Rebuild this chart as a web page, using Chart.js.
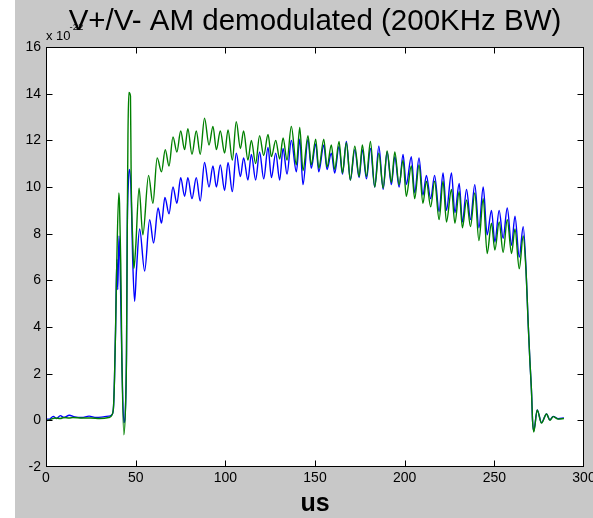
<!DOCTYPE html>
<html lang="en">
<head>
  <meta charset="UTF-8">
  <title>V+/V- AM demodulated (200KHz BW)</title>
  <script src="https://cdn.jsdelivr.net/npm/chart.js"></script>
  <style>
    html, body { margin: 0; padding: 0; background: #fff; }
    #wrap { position: relative; width: 593px; height: 518px; }
  </style>
</head>
<body>
  <div id="wrap"><canvas id="chart"></canvas></div>

  <script>
    // time in us, value in units of the axis exponent
    const greenT = [0, 3, 5, 8, 10, 13, 15, 20, 25, 30, 35, 36.9, 37.7, 38.2, 38.8, 39.5, 40.6, 41.0, 41.7, 42.3,
      43.4, 44.5, 44.9, 45.3, 45.7, 46.2, 47.1, 47.5, 48.3, 49.0, 50.0, 51.9, 54.0, 57.2, 59.6, 62.0, 64.4, 66.5, 68.6, 70.8,
      73.0, 75.1, 77.3, 79.1, 81.4, 83.8, 86.0, 88.4, 90.9, 93.1, 95.0, 97.2, 99.6, 101.5, 103.9, 106.1, 108.4, 110.2, 112.6, 114.5,
      116.9, 119.1, 121.4, 123.8, 125.7, 128.1, 130.3, 132.2, 134.4, 136.8, 139.6, 141.5, 143.3, 146.1, 147.9, 150.4, 152.1, 154.9, 156.7, 159.1,
      161.0, 163.4, 165.3, 167.5, 169.7, 172.2, 174.6, 176.4, 178.7, 180.9, 183.3, 185.6, 188.0, 190.2, 192.6, 194.5, 196.9, 199.1, 200.9, 203.7,
      205.6, 208.0, 210.2, 212.1, 214.5, 216.7, 219.2, 221.4, 223.3, 226.1, 228.0, 230.4, 232.2, 234.5, 236.7, 239.1, 241.4, 243.8, 246.0, 248.4,
      250.3, 252.7, 254.9, 257.2, 259.6, 261.5, 263.9, 266.1, 267.6, 268.9, 269.8, 270.8, 271.3, 272.0, 273.9, 276.3, 279.1, 281.0, 282.8, 285.6,
      288.8];
    const greenV = [-0.03, 0.05, 0.1, 0.08, 0.12, 0.1, 0.12, 0.1, 0.1, 0.08, 0.12, 0.25, 0.65, 1.8, 3.9, 6.9, 9.75, 9.3, 6.7, 2.7,
      -0.62, 1.0, 2.9, 8.0, 12.2, 14.05, 13.9, 10.3, 7.8, 6.5, 7.4, 9.95, 7.95, 10.5, 9.3, 11.25, 10.65, 11.6, 10.9, 12.15,
      11.5, 12.4, 11.6, 12.5, 11.4, 12.4, 11.4, 12.95, 11.8, 12.6, 11.6, 12.4, 11.45, 12.45, 11.15, 12.8, 11.65, 12.4, 11.15, 12.0,
      11.0, 12.2, 11.35, 12.25, 11.3, 12.0, 11.2, 12.1, 11.15, 12.6, 10.95, 12.55, 10.7, 12.2, 10.95, 12.05, 10.8, 12.05, 10.85, 11.8,
      10.75, 11.95, 10.6, 11.9, 10.3, 11.75, 10.45, 11.8, 10.45, 11.95, 10.0, 11.45, 9.95, 11.55, 10.2, 11.5, 10.1, 11.15, 9.6, 10.9,
      9.5, 10.95, 9.3, 10.25, 9.15, 10.25, 8.6, 10.25, 8.5, 9.9, 8.45, 9.8, 8.25, 9.45, 8.3, 9.75, 7.7, 9.5, 7.15, 8.45,
      7.3, 8.5, 7.2, 8.6, 7.15, 8.2, 6.5, 7.9, 6.5, 4.1, 2.6, 1.1, 0.0, -0.5, 0.45, -0.12, 0.27, 0.0, 0.16, 0.05,
      0.08];

    const blueT = [0, 2, 4, 6, 8, 10, 13, 16, 20, 24, 28, 32, 35, 36.9, 37.7, 38.2, 38.8, 39.5, 40.0, 40.7,
      41.3, 42.3, 43.4, 44.5, 44.9, 45.3, 46.0, 46.6, 47.5, 48.3, 49.4, 50.5, 52.2, 55.0, 57.8, 60.0, 62.5, 64.4, 66.3, 68.6,
      70.8, 73.0, 75.1, 77.3, 79.1, 81.4, 83.8, 86.0, 88.4, 90.9, 93.1, 95.0, 97.2, 99.6, 101.5, 103.9, 106.1, 108.4, 110.2, 112.6,
      114.5, 116.9, 119.1, 121.4, 123.8, 125.7, 128.1, 130.3, 132.2, 134.4, 136.8, 139.6, 141.5, 143.3, 146.1, 147.9, 150.4, 152.1, 154.9, 156.7,
      159.1, 161.0, 163.4, 165.3, 167.5, 169.7, 172.2, 174.6, 176.4, 178.7, 180.9, 183.3, 185.6, 188.0, 190.2, 192.6, 194.5, 196.9, 199.1, 200.9,
      203.7, 205.6, 208.0, 210.2, 212.1, 214.5, 216.7, 219.2, 221.4, 223.3, 226.1, 228.0, 230.4, 232.2, 234.5, 236.7, 239.1, 241.4, 243.8, 246.0,
      248.4, 250.3, 252.7, 254.9, 257.2, 259.6, 261.5, 263.9, 266.1, 267.6, 268.9, 269.8, 270.8, 271.3, 272.0, 273.9, 276.3, 279.1, 281.0, 282.8,
      285.6, 288.8];
    const blueV = [0.05, 0.05, 0.17, 0.08, 0.2, 0.12, 0.22, 0.15, 0.12, 0.18, 0.12, 0.15, 0.18, 0.25, 0.65, 1.8, 3.9, 6.9, 5.6, 7.9,
      6.8, 2.6, -0.1, 1.0, 3.0, 8.0, 10.3, 10.75, 9.66, 7.0, 5.1, 6.5, 8.2, 6.4, 8.6, 7.6, 9.1, 8.45, 9.55, 8.85,
      10.0, 9.3, 10.4, 9.6, 10.4, 9.5, 10.4, 9.4, 11.05, 10.0, 10.9, 10.0, 10.95, 9.85, 11.05, 9.8, 11.45, 10.45, 11.25, 10.3,
      11.4, 10.3, 11.5, 10.35, 11.7, 10.4, 11.45, 10.3, 11.65, 10.55, 12.0, 10.65, 12.05, 10.1, 12.05, 10.8, 11.85, 10.65, 11.8, 10.75,
      11.45, 10.6, 11.75, 10.55, 11.95, 10.3, 11.6, 10.4, 11.6, 10.35, 11.65, 10.0, 11.75, 9.9, 11.5, 10.1, 11.3, 10.0, 11.4, 10.1,
      11.3, 9.75, 11.25, 9.65, 10.5, 9.5, 10.5, 8.95, 10.6, 9.0, 10.6, 8.9, 10.15, 8.5, 9.9, 8.6, 10.1, 8.25, 10.0, 7.95,
      9.0, 7.65, 9.0, 7.8, 9.1, 7.5, 8.75, 7.0, 8.3, 6.6, 4.1, 2.6, 1.1, 0.0, -0.45, 0.45, -0.1, 0.27, 0.02, 0.17,
      0.07, 0.1];

    const xTicks = [0, 50, 100, 150, 200, 250, 300];
    const yTicks = [-2, 0, 2, 4, 6, 8, 10, 12, 14, 16];

    const font = '"Liberation Sans", Arial, sans-serif';
    const toPoints = (t, v) => t.map((x, i) => ({ x: x, y: v[i] }));

    // gray figure, white axes, box and inward ticks like the original figure
    const frame = {
      id: 'frame',
      beforeDraw(chart) {
        const { ctx, chartArea: a, width, height } = chart;
        ctx.save();
        ctx.fillStyle = '#fff';
        ctx.fillRect(0, 0, width, height);
        ctx.fillStyle = '#c8c8c8';
        ctx.fillRect(15, 0, width - 15, height);
        ctx.fillStyle = '#fff';
        ctx.fillRect(a.left, a.top, a.right - a.left, a.bottom - a.top);
        ctx.fillStyle = '#000';
        ctx.textAlign = 'left';
        ctx.textBaseline = 'alphabetic';
        ctx.font = '13px ' + font;
        ctx.fillText('x 10', a.left, 40);
        ctx.font = '9.5px ' + font;
        ctx.fillText('-22', 69.5, 29.5);
        ctx.restore();
      },
      afterDatasetsDraw(chart) {
        const { ctx, chartArea: a, scales } = chart;
        const l = Math.round(a.left) + 0.5, r = Math.round(a.right) - 0.5;
        const t = Math.round(a.top) + 0.5, b = Math.round(a.bottom) - 0.5;
        const len = 6;
        ctx.save();
        ctx.strokeStyle = '#000';
        ctx.lineWidth = 1;
        ctx.beginPath();
        xTicks.slice(1, -1).forEach(v => {
          const px = Math.round(scales.x.getPixelForValue(v)) + 0.5;
          ctx.moveTo(px, b); ctx.lineTo(px, b - len);
          ctx.moveTo(px, t); ctx.lineTo(px, t + len);
        });
        yTicks.slice(1, -1).forEach(v => {
          const py = Math.round(scales.y.getPixelForValue(v)) + 0.5;
          ctx.moveTo(l, py); ctx.lineTo(l + len, py);
          ctx.moveTo(r, py); ctx.lineTo(r - len, py);
        });
        ctx.stroke();
        ctx.strokeRect(l, t, r - l, b - t);
        ctx.restore();
      }
    };

    new Chart(document.getElementById('chart'), {
      type: 'line',
      data: {
        datasets: [
          { label: 'V-', data: toPoints(greenT, greenV), borderColor: '#008000', borderWidth: 1.4,
            pointRadius: 0, cubicInterpolationMode: 'monotone' },
          { label: 'V+', data: toPoints(blueT, blueV), borderColor: '#0000ff', borderWidth: 1.4,
            pointRadius: 0, cubicInterpolationMode: 'monotone' }
        ]
      },
      options: {
        responsive: true,
        maintainAspectRatio: false,
        animation: false,
        layout: { autoPadding: false, padding: { top: 0, right: 9, bottom: 0, left: 0 } },
        plugins: {
          legend: { display: false },
          tooltip: { enabled: false },
          title: {
            display: true, fullSize: false, text: 'V+/V- AM demodulated (200KHz BW)', color: '#000',
            font: { family: font, size: 29.5, weight: 'normal', lineHeight: 1 },
            padding: { top: 7.5, bottom: 10 }
          }
        },
        scales: {
          x: {
            type: 'linear', min: 0, max: 300,
            grid: { display: false, drawTicks: false },
            border: { display: false },
            ticks: { stepSize: 50, autoSkip: false, maxRotation: 0, padding: 3, color: '#000', font: { family: font, size: 14 } },
            title: { display: true, text: 'us', color: '#000', padding: { top: 0, bottom: 1 },
              font: { family: font, size: 25, weight: 'bold', lineHeight: 1 } },
            // the "300" label may run off the edge, as in the original
            afterFit: s => { s.height = 51; s.paddingLeft = 0; s.paddingRight = 0; }
          },
          y: {
            min: -2, max: 16,
            grid: { display: false, drawTicks: false },
            border: { display: false },
            ticks: { stepSize: 2, autoSkip: false, padding: 5, color: '#000', font: { family: font, size: 14 } },
            afterFit: s => { s.width = 46; }
          }
        }
      },
      plugins: [frame]
    });
  </script>
</body>
</html>
